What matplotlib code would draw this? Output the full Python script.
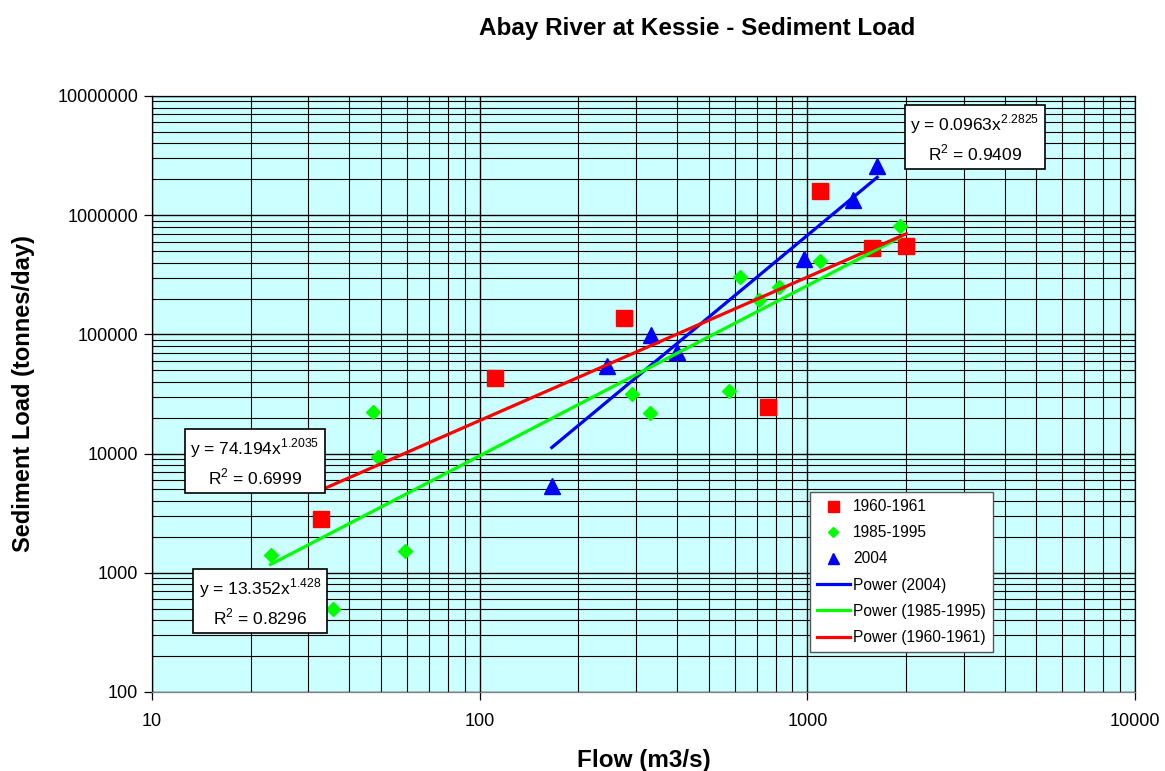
import numpy as np
import matplotlib
matplotlib.use("Agg")
import matplotlib.pyplot as plt
from matplotlib.ticker import LogLocator, FixedLocator, FixedFormatter, NullFormatter

plt.rcParams["font.family"] = ["Liberation Sans", "DejaVu Sans"]
plt.rcParams["mathtext.fontset"] = "custom"
plt.rcParams["mathtext.rm"] = "Liberation Sans"

# Flow (m3/s) and sediment load (tonnes/day) by sampling period
flow_1960 = [32.7, 111, 275, 760, 1096, 1578, 2004]
load_1960 = [2850, 42700, 136000, 24400, 1590000, 528000, 549000]

flow_1985 = [23.0, 35.6, 47.2, 48.9, 59.1, 291, 330, 578, 625, 714, 822, 1096, 1923]
load_1985 = [1420, 500, 22500, 9440, 1530, 31900, 22100, 33200, 301000, 193000, 248000, 410000, 809000]

flow_2004 = [166, 244, 334, 399, 979, 1380, 1634]
load_2004 = [5380, 53800, 98000, 70600, 427000, 1340000, 2580000]

# Power trendline coefficients y = a * x^b, with R^2
fit_2004 = (0.0963, 2.2825, 0.9409)
fit_1985 = (13.352, 1.428, 0.8296)
fit_1960 = (74.194, 1.2035, 0.6999)

x_ticks = [10, 100, 1000, 10000]
y_ticks = [100, 1000, 10000, 100000, 1000000, 10000000]


def power_curve(xs, fit):
    a, b, _ = fit
    x = np.geomspace(min(xs), max(xs), 50)
    return x, a * x ** b


def eq_text(fit):
    a, b, r2 = fit
    return f"y = {a}x$^{{\\mathregular{{{b}}}}}$\nR$^{{\\mathregular{{2}}}}$ = {r2}"


fig = plt.figure(figsize=(11.65, 7.71), dpi=100)
ax = fig.add_axes([152 / 1165, 1 - 692 / 771, 983 / 1165, 596 / 771])
ax.set_facecolor("#ccffff")
ax.set_xscale("log")
ax.set_yscale("log")
ax.set_xlim(10, 10000)
ax.set_ylim(100, 10000000)

ax.xaxis.set_major_locator(FixedLocator(x_ticks))
ax.xaxis.set_major_formatter(FixedFormatter([str(v) for v in x_ticks]))
ax.yaxis.set_major_locator(FixedLocator(y_ticks))
ax.yaxis.set_major_formatter(FixedFormatter([str(v) for v in y_ticks]))
for axis in (ax.xaxis, ax.yaxis):
    axis.set_minor_locator(LogLocator(base=10, subs=np.arange(2, 10)))
    axis.set_minor_formatter(NullFormatter())

ax.grid(True, which="major", color="black", lw=1.0)
ax.grid(True, which="minor", color="black", lw=0.8)
ax.tick_params(which="major", direction="out", length=6, width=0.9, labelsize=13, pad=4)
ax.tick_params(which="minor", length=0)
ax.tick_params(axis="x", pad=9)
for s in ax.spines.values():
    s.set_color("black")
    s.set_linewidth(0.9)
ax.spines["bottom"].set_color("#808080")

ax.plot(flow_1960, load_1960, ls="none", marker="s", ms=11, color="#ff0000", label="1960-1961", zorder=3)
ax.plot(flow_1985, load_1985, ls="none", marker="D", ms=7.5, color="#00ff00", label="1985-1995", zorder=3)
ax.plot(flow_2004, load_2004, ls="none", marker="^", ms=11, color="#0000ff", label="2004", zorder=3)

ax.plot(*power_curve(flow_2004, fit_2004), color="#0000ff", lw=2.3, label="Power (2004)", zorder=4)
ax.plot(*power_curve(flow_1985, fit_1985), color="#00ff00", lw=2.3, label="Power (1985-1995)", zorder=4)
ax.plot(*power_curve(flow_1960, fit_1960), color="#ff0000", lw=2.3, label="Power (1960-1961)", zorder=5)

# trendline equation boxes
box = dict(boxstyle="square,pad=0.32", fc="white", ec="black", lw=1.2)
fig.text(975 / 1165, 1 - 138 / 771, eq_text(fit_2004), ha="center", va="center",
         fontsize=12.5, linespacing=1.35, bbox=box, zorder=6)
fig.text(255 / 1165, 1 - 462 / 771, eq_text(fit_1960), ha="center", va="center",
         fontsize=12.5, linespacing=1.35, bbox=box, zorder=6)
fig.text(260 / 1165, 1 - 602 / 771, eq_text(fit_1985), ha="center", va="center",
         fontsize=12.5, linespacing=1.35, bbox=box, zorder=6)

leg = ax.legend(loc="upper left", bbox_to_anchor=((810 - 152) / 983, (692 - 492) / 596),
                fontsize=11.2, frameon=True, fancybox=False, framealpha=1, edgecolor="#555555",
                borderpad=0.45, labelspacing=0.72, handlelength=2.1, handletextpad=0.2,
                borderaxespad=0, markerscale=0.72)
leg.get_frame().set_linewidth(1.0)

fig.text(697 / 1165, 1 - 28 / 771, "Abay River at Kessie - Sediment Load",
         ha="center", va="center", fontsize=17.5, fontweight="bold")
ax.set_xlabel("Flow (m3/s)", fontsize=17.5, fontweight="bold", labelpad=14)
ax.set_ylabel("Sediment Load (tonnes/day)", fontsize=17, fontweight="bold", labelpad=16)

fig.savefig("out.png", dpi=100)
